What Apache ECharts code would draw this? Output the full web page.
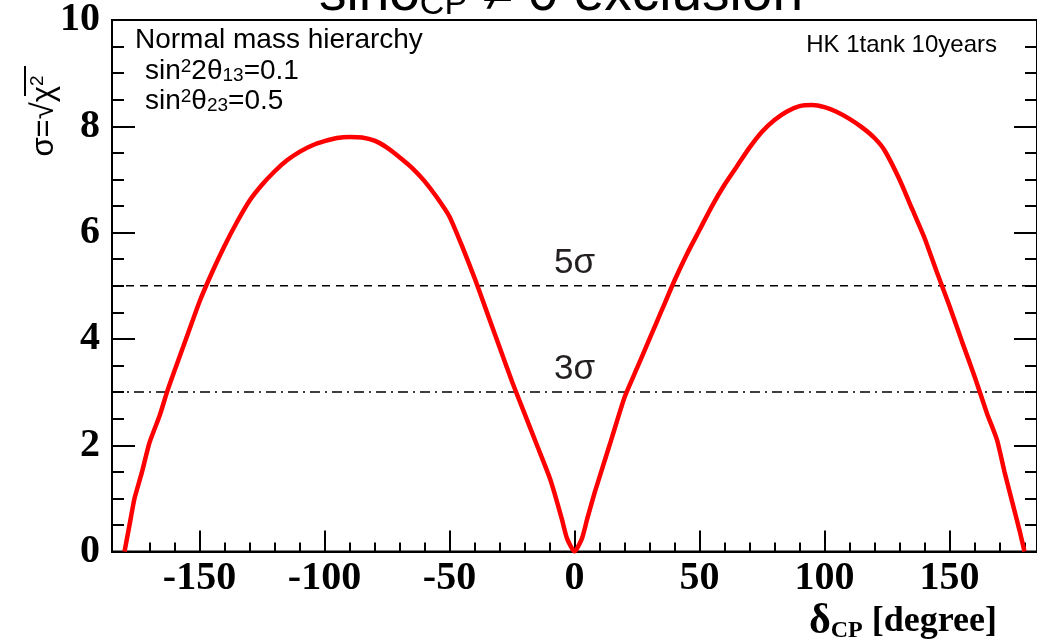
<!DOCTYPE html>
<html>
<head>
<meta charset="utf-8">
<script src="https://cdn.jsdelivr.net/npm/echarts@6/dist/echarts.min.js"></script>
<style>
  html, body { margin: 0; padding: 0; background: #fff; }
  #chart { width: 1037px; height: 642px; }
</style>
</head>
<body>
<div id="chart"></div>
<script>
// delta_CP [degree] and sigma = sqrt(chi2)
var deltaCP = [
  -180, -178, -176, -173, -170, -166, -163, -160, -155, -150,
  -145, -140, -135, -130, -125, -120, -115, -110, -105, -100,
  -95, -90, -85, -80, -75, -70, -65, -60, -55, -50,
  -45, -40, -35, -30, -25, -20, -15, -10, -8, -5,
  -3, 0, 3, 5, 8, 10, 15, 20, 25, 30,
  35, 40, 45, 50, 55, 60, 65, 70, 75, 80,
  85, 90, 95, 100, 105, 110, 115, 120, 124, 130,
  135, 140, 145, 150, 155, 160, 165, 169, 172, 175,
  178, 180
]
var sigma = [
  0, 0.5, 1.0, 1.5, 2.05, 2.55, 3.0, 3.4, 4.05, 4.7,
  5.25, 5.75, 6.2, 6.6, 6.9, 7.15, 7.36, 7.52, 7.64, 7.72,
  7.78, 7.8, 7.79, 7.73, 7.6, 7.42, 7.22, 6.97, 6.66, 6.3,
  5.75, 5.15, 4.5, 3.85, 3.2, 2.6, 2.0, 1.4, 1.1, 0.6,
  0.25, 0, 0.25, 0.6, 1.1, 1.4, 2.15, 2.9, 3.45, 4.0,
  4.55, 5.1, 5.6, 6.05, 6.5, 6.9, 7.25, 7.6, 7.9, 8.12,
  8.28, 8.38, 8.4, 8.36, 8.27, 8.14, 7.98, 7.78, 7.55, 7.0,
  6.45, 5.9, 5.25, 4.62, 3.95, 3.3, 2.6, 2.1, 1.5, 0.95,
  0.4, 0
]

var sigmaLevels = [5, 3]
var sigmaNames = ['5σ', '3σ']
var sigmaDash = [[8, 6], [10, 5, 2, 5]]

var xMajor = [-150, -100, -50, 0, 50, 100, 150]
var xMinor = [-180, -170, -160, -140, -130, -120, -110, -90, -80, -70, -60, -40, -30, -20, -10,
  10, 20, 30, 40, 60, 70, 80, 90, 110, 120, 130, 140, 160, 170, 180]
var yMajor = [0, 2, 4, 6, 8, 10]
var yMinor = [0.5, 1, 1.5, 2.5, 3, 3.5, 4.5, 5, 5.5, 6.5, 7, 7.5, 8.5, 9, 9.5]

var tickFont = {
  fontFamily: 'Liberation Serif',
  fontWeight: 'bold',
  fontSize: 40,
  color: '#000'
}

function xAxisOf(values, len, withLabels) {
  return {
    type: 'value',
    min: -185,
    max: 185,
    position: 'bottom',
    splitLine: { show: false },
    axisLine: { show: true, onZero: false, lineStyle: { color: '#000', width: 2 } },
    axisTick: { show: true, inside: true, length: len, customValues: values, lineStyle: { color: '#000', width: 2 } },
    axisLabel: withLabels
      ? Object.assign({ show: true, margin: 7, customValues: values }, tickFont)
      : { show: false }
  }
}

function yAxisOf(values, len, pos, withLabels) {
  return {
    type: 'value',
    min: 0,
    max: 10,
    position: pos,
    splitLine: { show: false },
    axisLine: { show: true, onZero: false, lineStyle: { color: '#000', width: 2 } },
    axisTick: { show: true, inside: true, length: len, customValues: values, lineStyle: { color: '#000', width: 2 } },
    axisLabel: withLabels
      ? Object.assign({ show: true, margin: 12, customValues: values }, tickFont)
      : { show: false }
  }
}

var chart = echarts.init(document.getElementById('chart'), null, { renderer: 'canvas' })

var series = []
sigmaLevels.forEach(function (lvl, i) {
  series.push({
    type: 'line',
    data: [[-185, lvl], [185, lvl]],
    symbol: 'none',
    silent: true,
    z: 1,
    lineStyle: { color: '#000', width: 1.5, type: sigmaDash[i] }
  })
  series.push({
    type: 'scatter',
    data: [[0, lvl]],
    symbolSize: 0,
    silent: true,
    itemStyle: { opacity: 1 },
    label: {
      show: true,
      position: 'top',
      distance: 5,
      formatter: sigmaNames[i],
      fontFamily: 'Liberation Sans',
      fontSize: 35,
      color: '#231f20',
      opacity: 1
    }
  })
})
series.push({
  type: 'line',
  data: deltaCP.map(function (d, i) { return [d, sigma[i]] }),
  symbol: 'none',
  smooth: 0.2,
  z: 5,
  lineStyle: { color: '#ff0000', width: 4.5 }
})

chart.setOption({
  animation: false,
  backgroundColor: '#fff',
  grid: {
    left: 112,
    right: -2,
    top: 18.6,
    bottom: 90.4,
    show: true,
    borderColor: '#000',
    borderWidth: 2
  },
  xAxis: [
    xAxisOf(xMajor, 21, true),
    xAxisOf(xMinor, 9, false)
  ],
  yAxis: [
    yAxisOf(yMajor, 23, 'left', true),
    yAxisOf(yMinor, 12, 'left', false),
    yAxisOf(yMajor, 23, 'right', false),
    yAxisOf(yMinor, 12, 'right', false)
  ],
  series: series,
  graphic: [
    {
      type: 'text',
      right: 234,
      top: -33,
      style: {
        text: '{t|sinδ}{s|CP}{t| ≠ 0 exclusion}',
        rich: {
          t: { fontFamily: 'Liberation Sans', fontSize: 55, color: '#000' },
          s: { fontFamily: 'Liberation Sans', fontSize: 34, color: '#000', verticalAlign: 'bottom' }
        }
      }
    },
    {
      type: 'text',
      x: 44,
      y: 116,
      rotation: Math.PI / 2,
      style: {
        text: '{t|σ=√χ}{s|2}',
        align: 'center',
        verticalAlign: 'middle',
        rich: {
          t: { fontFamily: 'Liberation Sans', fontSize: 31, color: '#000' },
          s: { fontFamily: 'Liberation Sans', fontSize: 19, color: '#000', verticalAlign: 'top' }
        }
      }
    },
    {
      type: 'line',
      shape: { x1: 25, y1: 66, x2: 25, y2: 96 },
      style: { stroke: '#000', lineWidth: 2 }
    },
    {
      type: 'text',
      x: 997,
      y: 622,
      style: {
        text: '{d|δ}{s|CP}{b| [degree]}',
        align: 'right',
        verticalAlign: 'middle',
        rich: {
          d: { fontFamily: 'Liberation Serif', fontWeight: 'bold', fontSize: 42, color: '#000' },
          s: { fontFamily: 'Liberation Serif', fontWeight: 'bold', fontSize: 24, color: '#000', verticalAlign: 'bottom' },
          b: { fontFamily: 'Liberation Serif', fontWeight: 'bold', fontSize: 36, color: '#000' }
        }
      }
    },
    {
      type: 'text',
      x: 135,
      y: 40,
      style: {
        text: 'Normal mass hierarchy',
        fontFamily: 'Liberation Sans',
        fontSize: 28,
        fill: '#000',
        verticalAlign: 'middle'
      }
    },
    {
      type: 'text',
      x: 145,
      y: 71,
      style: {
        text: '{t|sin}{p|2}{t|2θ}{b|13}{t|=0.1}',
        verticalAlign: 'middle',
        rich: {
          t: { fontFamily: 'Liberation Sans', fontSize: 28, color: '#000' },
          p: { fontFamily: 'Liberation Sans', fontSize: 19, color: '#000', verticalAlign: 'top' },
          b: { fontFamily: 'Liberation Sans', fontSize: 19, color: '#000', verticalAlign: 'bottom' }
        }
      }
    },
    {
      type: 'text',
      x: 145,
      y: 101,
      style: {
        text: '{t|sin}{p|2}{t|θ}{b|23}{t|=0.5}',
        verticalAlign: 'middle',
        rich: {
          t: { fontFamily: 'Liberation Sans', fontSize: 28, color: '#000' },
          p: { fontFamily: 'Liberation Sans', fontSize: 19, color: '#000', verticalAlign: 'top' },
          b: { fontFamily: 'Liberation Sans', fontSize: 19, color: '#000', verticalAlign: 'bottom' }
        }
      }
    },
    {
      type: 'text',
      x: 997,
      y: 45,
      style: {
        text: 'HK 1tank 10years',
        fontFamily: 'Liberation Sans',
        fontSize: 24,
        fill: '#000',
        align: 'right',
        verticalAlign: 'middle'
      }
    }
  ]
})
</script>
</body>
</html>
